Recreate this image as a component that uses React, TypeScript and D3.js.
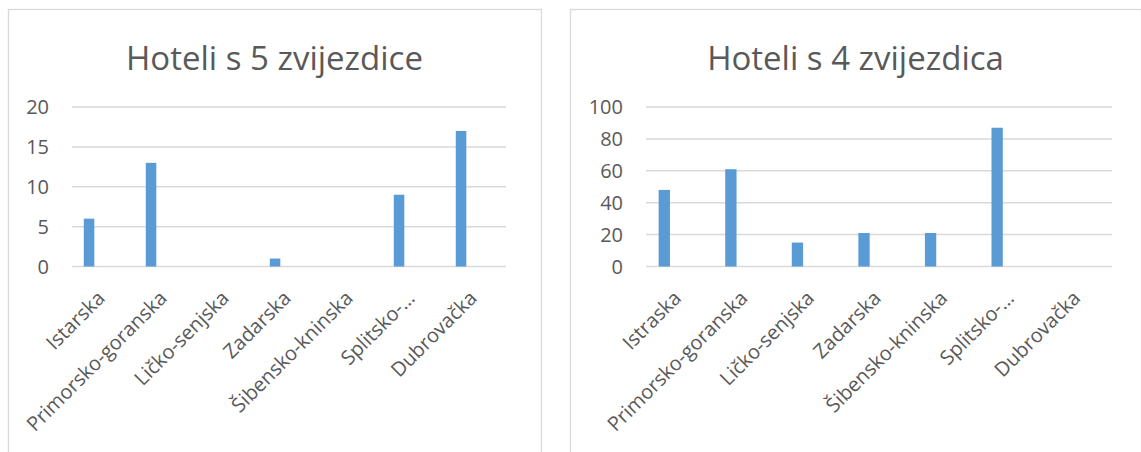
import { useEffect, useRef } from "react";
import * as d3 from "d3";

// podaci
const categories5 = ["Istarska", "Primorsko-goranska", "Ličko-senjska", "Zadarska", "Šibensko-kninska", "Splitsko-…", "Dubrovačka"];
const values5 = [6, 13, 0, 1, 0, 9, 17];
const ticks5 = [0, 5, 10, 15, 20];

const categories4 = ["Istraska", "Primorsko-goranska", "Ličko-senjska", "Zadarska", "Šibensko-kninska", "Splitsko-…", "Dubrovačka"];
const values4 = [48, 61, 15, 21, 21, 87, 0];
const ticks4 = [0, 20, 40, 60, 80, 100];

const FONT = "'Open Sans', sans-serif";
const TEXT = "#595959";
const GRID = "#d9d9d9";
const BAR = "#5b9bd5";

type Opts = {
  title: string;
  categories: string[];
  values: number[];
  ticks: number[];
  box: { x: number; y: number; w: number; h: number };
  plot: { left: number; right: number; top: number; bottom: number };
};

const drawChart = (svg: d3.Selection<SVGSVGElement, unknown, null, undefined>, o: Opts) => {
  const g = svg.append("g");

  // okvir grafikona
  g.append("rect")
    .attr("x", o.box.x + 0.5)
    .attr("y", o.box.y + 0.5)
    .attr("width", o.box.w)
    .attr("height", o.box.h)
    .attr("fill", "#fff")
    .attr("stroke", GRID)
    .attr("stroke-width", 1.3);

  // naslov
  g.append("text")
    .attr("x", o.box.x + o.box.w / 2)
    .attr("y", 70)
    .attr("text-anchor", "middle")
    .attr("font-family", FONT)
    .attr("font-size", 33)
    .attr("fill", TEXT)
    .text(o.title);

  const x = d3.scaleBand<string>()
    .domain(o.categories)
    .range([o.plot.left, o.plot.right]);

  const y = d3.scaleLinear()
    .domain([0, d3.max(o.ticks) as number])
    .range([o.plot.bottom, o.plot.top]);

  // mreža
  g.selectAll(".grid")
    .data(o.ticks)
    .enter()
    .append("line")
    .attr("x1", o.plot.left)
    .attr("x2", o.plot.right)
    .attr("y1", (d) => y(d))
    .attr("y2", (d) => y(d))
    .attr("stroke", GRID)
    .attr("stroke-width", 1.5);

  // oznake osi Y
  g.selectAll(".ytick")
    .data(o.ticks)
    .enter()
    .append("text")
    .attr("x", o.plot.left - 23)
    .attr("y", (d) => y(d))
    .attr("dy", "0.36em")
    .attr("text-anchor", "end")
    .attr("font-family", FONT)
    .attr("font-size", 20)
    .attr("fill", TEXT)
    .text((d) => d);

  // stupci (prva serija u grupi, pomaknuta ulijevo)
  const step = x.step();
  const barW = step * 0.17;
  const offset = -step * 0.225;
  g.selectAll(".bar")
    .data(o.values)
    .enter()
    .append("rect")
    .attr("x", (_, i) => (x(o.categories[i]) as number) + step / 2 + offset - barW / 2)
    .attr("y", (d) => y(d))
    .attr("width", barW)
    .attr("height", (d) => y(0) - y(d))
    .attr("fill", BAR);

  // oznake kategorija
  g.selectAll(".xlabel")
    .data(o.categories)
    .enter()
    .append("text")
    .attr("transform", (d) => {
      const cx = (x(d) as number) + step / 2 + 3;
      const cy = o.plot.bottom + 33;
      return `translate(${cx},${cy}) rotate(-45)`;
    })
    .attr("text-anchor", "end")
    .attr("font-family", FONT)
    .attr("font-size", 20)
    .attr("fill", TEXT)
    .text((d) => d);
};

const App = () => {
  const ref = useRef<SVGSVGElement>(null);

  useEffect(() => {
    document.body.style.margin = "0";
    const svg = d3.select(ref.current as SVGSVGElement);
    svg.selectAll("*").remove();

    drawChart(svg, {
      title: "Hoteli s 5 zvijezdice",
      categories: categories5,
      values: values5,
      ticks: ticks5,
      box: { x: 8, y: 9, w: 533, h: 460 },
      plot: { left: 72, right: 506, top: 107, bottom: 266.5 },
    });

    drawChart(svg, {
      title: "Hoteli s 4 zvijezdica",
      categories: categories4,
      values: values4,
      ticks: ticks4,
      box: { x: 570, y: 9, w: 571, h: 460 },
      plot: { left: 646, right: 1112, top: 107, bottom: 266.5 },
    });
  }, []);

  return <svg ref={ref} width={1141} height={452} style={{ display: "block", background: "#fff" }} />;
};

export default App;
